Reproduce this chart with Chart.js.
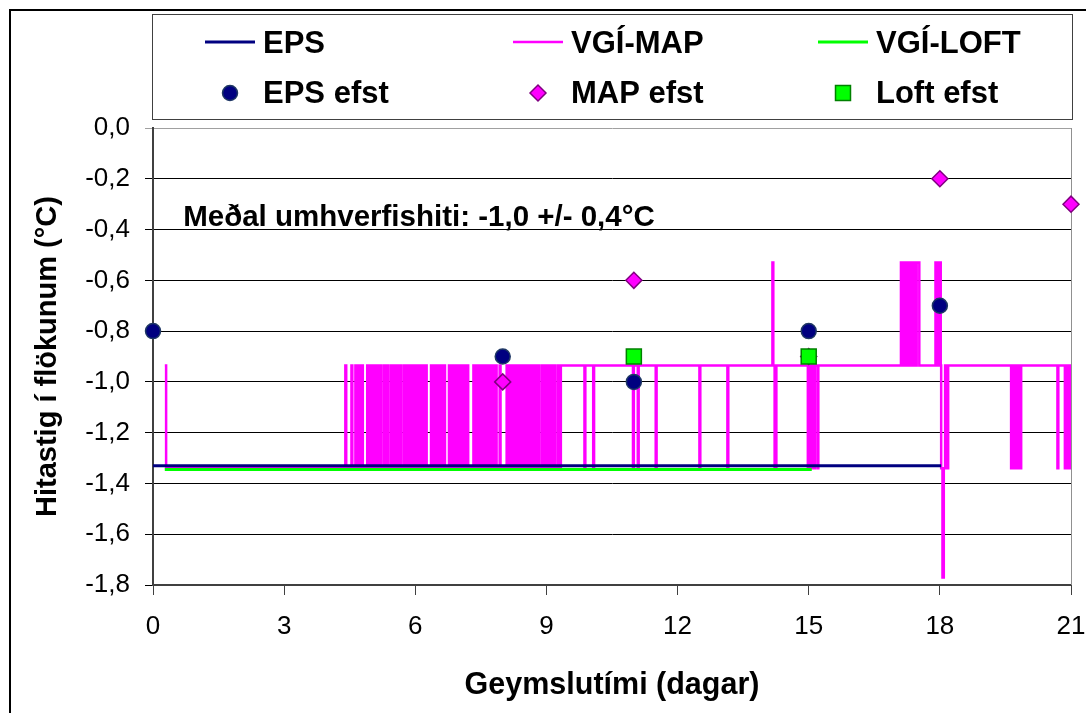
<!DOCTYPE html>
<html>
<head>
<meta charset="utf-8">
<script src="https://cdn.jsdelivr.net/npm/chart.js@4/dist/chart.umd.min.js"></script>
<style>
  html, body { margin: 0; padding: 0; background: #fff; }
  canvas { display: block; }
</style>
</head>
<body>
<canvas id="chart" width="1086" height="713"></canvas>
<script>
// axis ticks
var xTicks = [0, 3, 6, 9, 12, 15, 18, 21];
var yTicks = [0, -0.2, -0.4, -0.6, -0.8, -1.0, -1.2, -1.4, -1.6, -1.8];

// continuous loggers [day, temp]
var epsLine = [[0, -1.33], [18.03, -1.33]];
var loftLine = [[0.27, -1.345], [15.07, -1.345]];
// VGI-MAP logger, each point is where the reading changes to a new value
var mapLine = [
  [0.27, -0.935], [0.30, -1.34],
  [4.40, -0.935], [4.42, -1.34], [4.54, -0.935], [4.56, -1.34], [4.63, -0.935], [4.65, -1.34],
  [4.70, -0.935], [4.75, -1.34], [4.78, -0.935], [4.80, -1.34],
  [4.90, -0.935], [4.95, -1.34], [5.00, -0.935], [5.05, -1.34], [5.10, -0.935], [5.15, -1.34], [5.18, -0.935], [5.21, -1.34],
  [5.27, -0.935], [5.32, -1.34], [5.35, -0.935], [5.38, -1.34],
  [5.44, -0.935], [5.49, -1.34], [5.54, -0.935], [5.59, -1.34], [5.63, -0.935], [5.67, -1.34],
  [5.73, -0.935], [5.78, -1.34], [5.83, -0.935], [5.88, -1.34], [5.93, -0.935], [5.98, -1.34],
  [6.03, -0.935], [6.08, -1.34], [6.13, -0.935], [6.18, -1.34], [6.22, -0.935], [6.26, -1.34],
  [6.36, -0.935], [6.41, -1.34], [6.46, -0.935], [6.51, -1.34], [6.56, -0.935], [6.61, -1.34], [6.65, -0.935], [6.68, -1.34],
  [6.77, -0.935], [6.82, -1.34], [6.87, -0.935], [6.91, -1.34], [6.93, -0.935], [6.95, -1.34],
  [7.00, -0.935], [7.05, -1.34], [7.08, -0.935], [7.10, -1.34],
  [7.14, -0.935], [7.17, -1.34], [7.19, -0.935], [7.21, -1.34],
  [7.33, -0.935], [7.38, -1.34], [7.43, -0.935], [7.48, -1.34], [7.52, -0.935], [7.56, -1.34],
  [7.60, -0.935], [7.65, -1.34], [7.70, -0.935], [7.75, -1.34], [7.77, -0.935], [7.79, -1.34],
  [7.84, -0.935], [7.86, -1.34], [7.93, -0.935], [7.95, -1.34],
  [8.09, -0.935], [8.14, -1.34], [8.19, -0.935], [8.24, -1.34], [8.29, -0.935], [8.34, -1.34], [8.39, -0.935], [8.43, -1.34],
  [8.47, -0.935], [8.52, -1.34], [8.56, -0.935], [8.59, -1.34],
  [8.62, -0.935], [8.66, -1.34], [8.68, -0.935], [8.70, -1.34],
  [8.74, -0.935], [8.79, -1.34], [8.81, -0.935], [8.83, -1.34],
  [8.89, -0.935], [8.94, -1.34], [8.97, -0.935], [8.99, -1.34],
  [9.02, -0.935], [9.07, -1.34], [9.12, -0.935], [9.16, -1.34], [9.18, -0.935], [9.20, -1.34],
  [9.26, -0.935], [9.30, -1.34], [9.33, -0.935],
  [9.87, -1.34], [9.89, -0.935], [10.07, -1.34], [10.09, -0.935],
  [10.98, -1.34], [11.00, -0.935], [11.09, -1.34], [11.11, -0.935],
  [11.50, -1.34], [11.52, -0.935], [12.50, -1.34], [12.52, -0.935], [13.14, -1.34], [13.16, -0.935],
  [14.17, -0.53], [14.19, -0.935], [14.22, -1.34], [14.26, -0.935],
  [14.98, -1.34], [15.02, -0.935], [15.04, -1.34], [15.07, -0.935],
  [15.12, -1.34], [15.14, -0.935], [15.20, -1.34], [15.22, -0.935],
  [17.11, -0.53], [17.16, -0.935], [17.20, -0.53], [17.25, -0.935], [17.29, -0.53], [17.34, -0.935],
  [17.38, -0.53], [17.43, -0.935], [17.47, -0.53], [17.53, -0.935],
  [17.90, -0.53], [17.94, -0.935], [17.98, -0.53], [18.02, -0.935],
  [18.03, -1.34], [18.06, -1.77], [18.09, -1.34], [18.12, -0.935], [18.15, -1.34], [18.19, -0.935],
  [19.63, -1.34], [19.68, -0.935], [19.72, -1.34], [19.77, -0.935], [19.81, -1.34], [19.86, -0.935],
  [20.69, -1.34], [20.71, -0.935],
  [20.86, -1.34], [20.90, -0.935], [20.93, -1.34], [20.97, -0.935],
  [20.99, -1.34], [21.00, -0.935]
];

// warmest spot measurements
var epsTopDays = [0, 8, 11, 15, 18];
var epsTopTemps = [-0.8, -0.9, -1.0, -0.8, -0.7];
var mapTopDays = [8, 11, 15, 18, 21];
var mapTopTemps = [-1.0, -0.6, -0.9, -0.2, -0.3];
var loftTopDays = [11, 15];
var loftTopTemps = [-0.9, -0.9];

var FONT = "'Liberation Sans', Arial, sans-serif";

function pairs(list) {
  return list.map(function(p) { return { x: p[0], y: p[1] }; });
}
function zip(xs, ys) {
  return xs.map(function(x, i) { return { x: x, y: ys[i] }; });
}

function drawMarker(ctx, ds, x, y) {
  var r = ds.pointRadius;
  ctx.save();
  ctx.fillStyle = ds.pointBackgroundColor;
  ctx.strokeStyle = ds.pointBorderColor;
  ctx.lineWidth = ds.pointBorderWidth;
  ctx.beginPath();
  if (ds.pointStyle === 'circle') {
    ctx.arc(x, y, r, 0, Math.PI * 2);
  } else if (ds.pointStyle === 'rectRot') {
    ctx.moveTo(x - r, y); ctx.lineTo(x, y - r); ctx.lineTo(x + r, y); ctx.lineTo(x, y + r);
    ctx.closePath();
  } else {
    var s = r * Math.SQRT1_2;
    ctx.rect(x - s, y - s, 2 * s, 2 * s);
  }
  ctx.fill();
  ctx.stroke();
  ctx.restore();
}

var framePlugin = {
  id: 'frame',
  beforeDraw: function(chart) {
    var ctx = chart.ctx;
    ctx.save();
    ctx.fillStyle = '#fff';
    ctx.fillRect(0, 0, chart.width, chart.height);
    ctx.strokeStyle = '#000';
    ctx.lineWidth = 2;
    ctx.strokeRect(10, 10, chart.width + 40, chart.height + 40);
    ctx.restore();
  },
  beforeDatasetsDraw: function(chart) {
    var a = chart.chartArea, ctx = chart.ctx;
    ctx.save();
    ctx.strokeStyle = '#909090';
    ctx.lineWidth = 1;
    ctx.beginPath();
    ctx.moveTo(a.right + 0.5, a.top);
    ctx.lineTo(a.right + 0.5, a.bottom);
    ctx.stroke();
    ctx.restore();
  },
  afterDraw: function(chart) {
    var ctx = chart.ctx;
    var sets = chart.data.datasets;
    ctx.save();
    // legend box
    ctx.strokeStyle = '#404040';
    ctx.lineWidth = 1;
    ctx.strokeRect(152.5, 14.5, 920, 105);
    var cols = [205, 513, 818];
    ctx.font = 'bold 31px ' + FONT;
    ctx.fillStyle = '#000';
    ctx.textBaseline = 'alphabetic';
    for (var i = 0; i < sets.length; i++) {
      var ds = sets[i];
      var col = cols[i % 3];
      var row = i < 3 ? 0 : 1;
      var cy = row === 0 ? 42 : 93;
      if (row === 0) {
        ctx.save();
        ctx.strokeStyle = ds.borderColor;
        ctx.lineWidth = ds.borderWidth;
        ctx.beginPath();
        ctx.moveTo(col, cy);
        ctx.lineTo(col + 50, cy);
        ctx.stroke();
        ctx.restore();
      } else {
        drawMarker(ctx, ds, col + 25, cy);
      }
      ctx.fillStyle = '#000';
      ctx.fillText(ds.label, col + 58, row === 0 ? 53 : 103);
    }
    // note on ambient temperature
    var xs = chart.scales.x, ys = chart.scales.y;
    ctx.font = 'bold 29.5px ' + FONT;
    ctx.fillText('Meðal umhverfishiti: -1,0 +/- 0,4°C', xs.getPixelForValue(0.69), ys.getPixelForValue(-0.386));
    ctx.restore();
  }
};

new Chart(document.getElementById('chart').getContext('2d'), {
  type: 'line',
  data: {
    datasets: [
      { label: 'EPS', data: pairs(epsLine), borderColor: '#000080', borderWidth: 3, pointRadius: 0, order: 4 },
      { label: 'VGÍ-MAP', data: pairs(mapLine), borderColor: '#FF00FF', borderWidth: 2.5, pointRadius: 0,
        stepped: true, borderJoinStyle: 'miter', order: 5 },
      { label: 'VGÍ-LOFT', data: pairs(loftLine), borderColor: '#00FF00', borderWidth: 3, pointRadius: 0, order: 3 },
      { label: 'EPS efst', data: zip(epsTopDays, epsTopTemps), showLine: false, pointStyle: 'circle',
        pointRadius: 7.5, pointBackgroundColor: '#000080', pointBorderColor: '#1F3864', pointBorderWidth: 1.5,
        clip: false, order: 2 },
      { label: 'MAP efst', data: zip(mapTopDays, mapTopTemps), showLine: false, pointStyle: 'rectRot',
        pointRadius: 8, pointBackgroundColor: '#FF00FF', pointBorderColor: '#800080', pointBorderWidth: 1.5,
        clip: false, order: 1 },
      { label: 'Loft efst', data: zip(loftTopDays, loftTopTemps), showLine: false, pointStyle: 'rect',
        pointRadius: 10.6, pointBackgroundColor: '#00FF00', pointBorderColor: '#008000', pointBorderWidth: 1.5,
        clip: false, order: 0 }
    ]
  },
  options: {
    responsive: false,
    animation: false,
    layout: { padding: { left: 0, top: 128, right: 15, bottom: 0 } },
    plugins: { legend: { display: false }, tooltip: { enabled: false } },
    scales: {
      x: {
        type: 'linear', min: 0, max: 21,
        afterBuildTicks: function(s) { s.ticks = xTicks.map(function(v) { return { value: v }; }); },
        afterFit: function(s) { s.height = 128; s.paddingLeft = 0; s.paddingRight = 0; },
        grid: { drawOnChartArea: false, drawTicks: true, tickLength: 10, color: '#404040' },
        border: { color: '#404040', width: 2 },
        ticks: { color: '#000', font: { family: FONT, size: 26 }, padding: 16, maxRotation: 0 },
        title: { display: true, text: 'Geymslutími (dagar)', color: '#000',
          font: { family: FONT, size: 30.5, weight: 'bold' }, padding: { top: 0, bottom: 9 } }
      },
      y: {
        min: -1.8, max: 0,
        afterBuildTicks: function(s) { s.ticks = yTicks.map(function(v) { return { value: v }; }); },
        afterFit: function(s) { s.width = 153; },
        grid: {
          color: function(c) { return c.tick && Math.abs(c.tick.value) < 1e-6 ? '#a0a0a0' : '#000'; },
          lineWidth: 1, tickLength: 8
        },
        border: { color: '#404040', width: 2 },
        ticks: {
          color: '#000', font: { family: FONT, size: 26 }, padding: 15,
          callback: function(v) { return v.toFixed(1).replace('.', ','); }
        },
        title: { display: true, text: 'Hitastig í flökunum (°C)', color: '#000',
          font: { family: FONT, size: 29, weight: 'bold' }, padding: { top: 31, bottom: 0 } }
      }
    }
  },
  plugins: [framePlugin]
});
</script>
</body>
</html>
